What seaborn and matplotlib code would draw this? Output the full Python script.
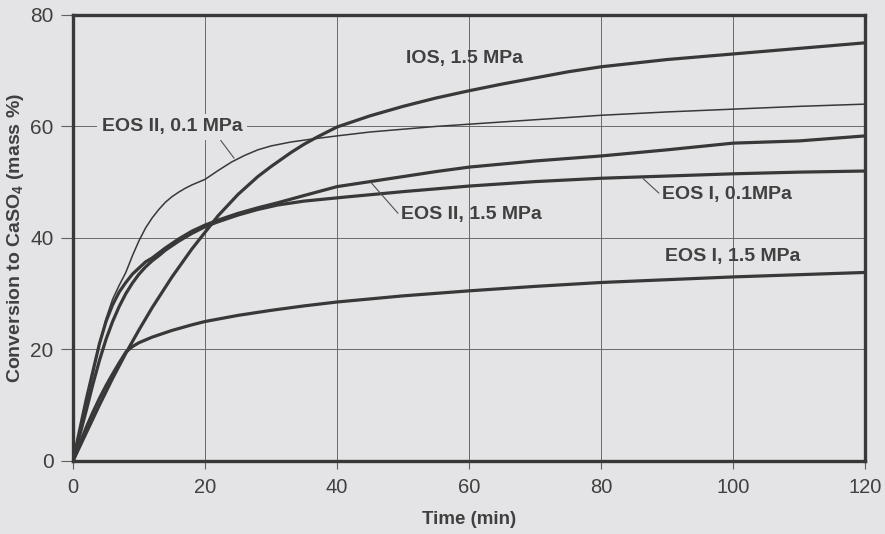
import matplotlib
matplotlib.use("Agg")
import matplotlib.pyplot as plt
import seaborn as sns
import numpy as np
import pandas as pd

# values
ios_15_t = [0, 2, 4, 6, 8, 10, 12, 15, 18, 20, 22, 25, 28, 30, 33, 35, 37, 40, 45, 50, 55, 60,
            65, 70, 75, 80, 90, 100, 110, 120]
ios_15_y = [0, 5, 10, 14.8, 19.3, 23.5, 27.5, 33, 38, 41, 44, 47.8, 51, 52.8, 55.3, 56.8, 58.1,
            59.9, 61.9, 63.6, 65.1, 66.4, 67.6, 68.7, 69.8, 70.7, 72, 73, 74, 75]

eos2_01_t = [0, 1, 2, 3, 4, 5, 6, 7, 8, 9, 10, 11, 12, 13, 14, 15, 16, 17, 18, 20, 22, 24, 26,
             28, 30, 33, 36, 40, 45, 50, 55, 60, 70, 80, 90, 100, 110, 120]
eos2_01_y = [0, 5, 10, 15.5, 21, 25.5, 29, 31.5, 33.8, 36.8, 39.5, 41.8, 43.6, 45.1, 46.4, 47.4,
             48.2, 48.9, 49.5, 50.5, 52.1, 53.6, 54.8, 55.8, 56.5, 57.2, 57.7, 58.3, 59, 59.5,
             60, 60.4, 61.2, 62, 62.6, 63.1, 63.6, 64]

eos2_15_t = [0, 1, 2, 3, 4, 5, 6, 7, 8, 9, 10, 11, 12, 13, 14, 15, 16, 18, 20, 22, 25, 28, 31,
             35, 40, 45, 50, 55, 60, 70, 80, 90, 100, 110, 120]
eos2_15_y = [0, 5.5, 11, 16, 21, 25, 28, 30.3, 32, 33.5, 34.6, 35.7, 36.4, 37.3, 38.2, 39, 39.8,
             41.2, 42.3, 43.2, 44.4, 45.4, 46.3, 47.6, 49.2, 50.1, 51, 51.9, 52.7, 53.8, 54.7,
             55.8, 57, 57.4, 58.3]

eos1_01_t = [0, 1, 2, 3, 4, 5, 6, 7, 8, 9, 10, 11, 12, 13, 14, 16, 18, 20, 22, 25, 28, 31, 35,
             41, 50, 60, 70, 80, 90, 100, 110, 120]
eos1_01_y = [0, 4.5, 9, 13.7, 18, 21.8, 25, 27.7, 30, 31.9, 33.5, 34.8, 35.9, 36.8, 37.8, 39.4,
             40.8, 42, 42.9, 44.1, 45.1, 45.9, 46.6, 47.3, 48.3, 49.3, 50.1, 50.7, 51.1, 51.5,
             51.8, 52]

eos1_15_t = [0, 1, 2, 3, 4, 5, 6, 7, 8, 9, 10, 12, 15, 18, 20, 25, 30, 35, 40, 50, 60, 70, 80,
             90, 100, 110, 120]
eos1_15_y = [0, 3, 6, 8.7, 11.2, 13.5, 15.6, 17.6, 19.5, 20.5, 21.2, 22.2, 23.4, 24.4, 25, 26.1,
             27, 27.8, 28.5, 29.6, 30.5, 31.3, 32, 32.5, 33, 33.4, 33.8]

series = ["IOS, 1.5 MPa", "EOS II, 0.1 MPa", "EOS II, 1.5 MPa", "EOS I, 0.1MPa", "EOS I, 1.5 MPa"]
times = [ios_15_t, eos2_01_t, eos2_15_t, eos1_01_t, eos1_15_t]
values = [ios_15_y, eos2_01_y, eos2_15_y, eos1_01_y, eos1_15_y]
widths = [2.3, 1.1, 2.3, 2.3, 2.3]

bg = "#e4e4e6"
ink = "#383838"
txt = "#404040"

sns.set_theme(style="whitegrid")
plt.rcParams['font.family'] = ['Liberation Sans', 'DejaVu Sans']

fig = plt.figure(figsize=(8.85, 5.34), dpi=100, facecolor=bg)
ax = fig.add_axes([0.0825, 0.137, 0.895, 0.835])
ax.set_facecolor(bg)

for name, t, y, lw in zip(series, times, values, widths):
    df = pd.DataFrame({"Time": t, "Conv": y})
    sns.lineplot(data=df, x="Time", y="Conv", ax=ax, color=ink, linewidth=lw)

ax.set_xlim(0, 120)
ax.set_ylim(0, 80)
ax.set_xticks(np.arange(0, 121, 20))
ax.set_yticks(np.arange(0, 81, 20))
ax.grid(True, color="#6a6a6a", linewidth=0.7)
for s in ax.spines.values():
    s.set_color(ink)
    s.set_linewidth(2.4)
ax.tick_params(axis="both", which="both", colors="#606060", width=0.8,
               labelcolor=txt)
ax.tick_params(axis="x", direction="out", bottom=True, length=6, labelsize=14.5, pad=6)
ax.tick_params(axis="y", direction="out", left=True, length=9, labelsize=15, pad=5)

ax.set_xlabel("Time (min)", fontsize=13.5, color=txt, fontweight="bold")
ax.set_ylabel("Conversion to CaSO$_\\mathregular{4}$ (mass %)", fontsize=14, color=txt,
              fontweight="bold")
ax.xaxis.set_label_coords(0.5, -0.112)
ax.yaxis.set_label_coords(-0.059, 0.5)

lab_kw = dict(fontsize=14, fontweight="bold", color=txt, ha="center", va="center")
line_kw = dict(arrowstyle="-", color="#505050", lw=0.8, shrinkA=0, shrinkB=0)
ax.text(59.3, 72.1, "IOS, 1.5 MPa", **lab_kw)
ax.text(100, 36.7, "EOS I, 1.5 MPa", **lab_kw)
ax.annotate("EOS II, 0.1 MPa", xy=(24.4, 54.3), xytext=(15, 59.9), **lab_kw,
            bbox=dict(boxstyle="square,pad=0.25", fc=bg, ec="none"),
            arrowprops=dict(relpos=(0.82, 0.0), **line_kw))
ax.annotate("EOS II, 1.5 MPa", xy=(45.1, 50.0), xytext=(60.4, 44.2), **lab_kw,
            arrowprops=dict(relpos=(0.0, 0.35), **line_kw))
ax.annotate("EOS I, 0.1MPa", xy=(86.4, 50.6), xytext=(99.1, 47.8), **lab_kw,
            arrowprops=dict(relpos=(0.0, 0.4), **line_kw))

fig.savefig("out.png", dpi=100, facecolor=bg)
